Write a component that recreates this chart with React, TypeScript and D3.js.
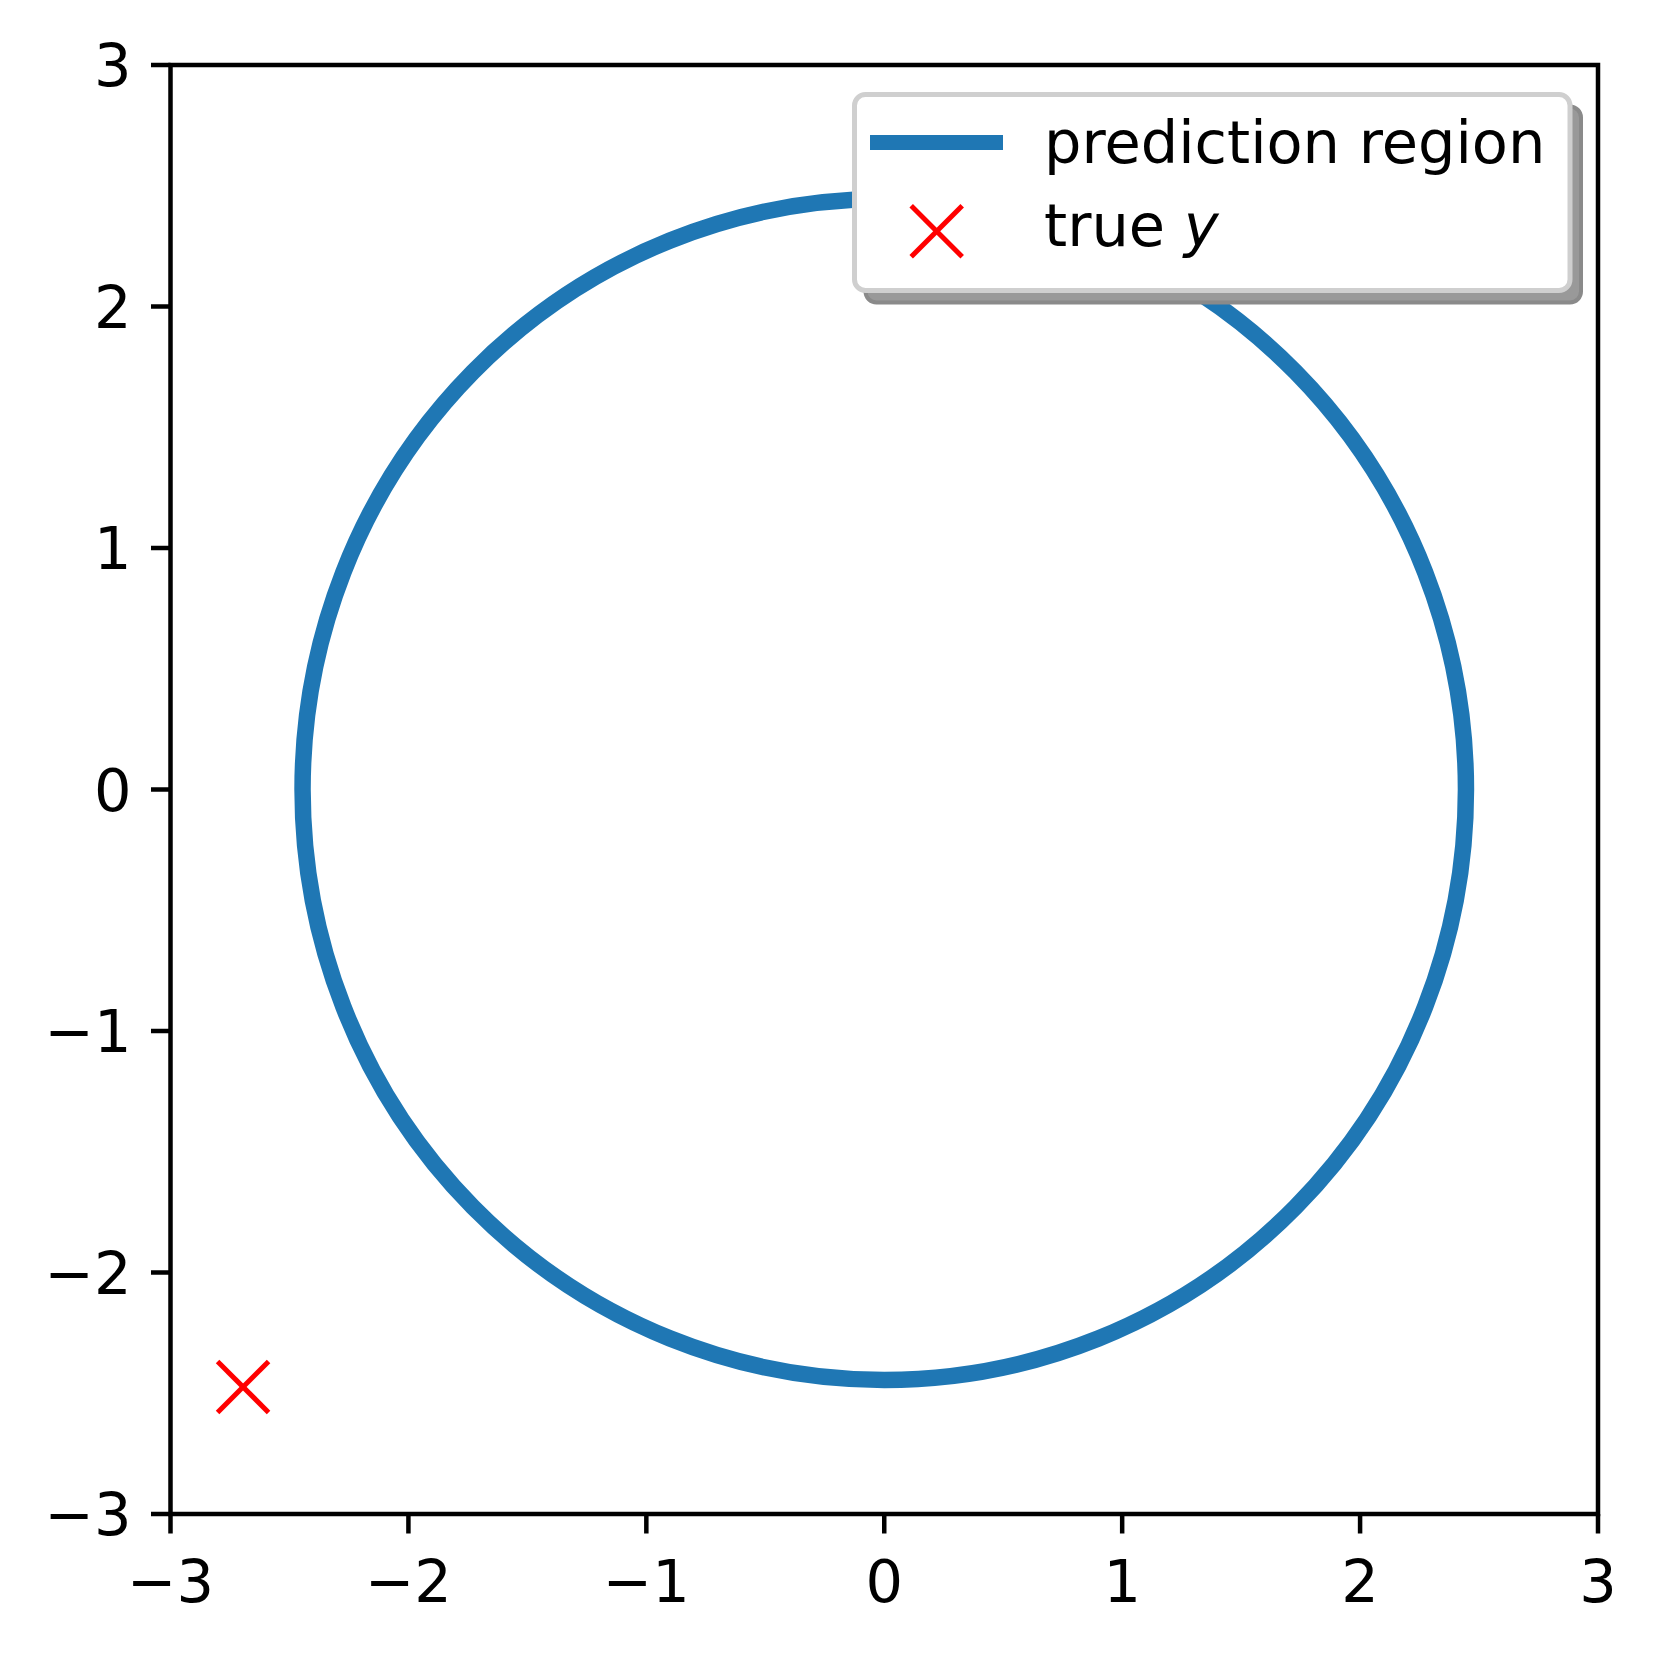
import React from "react";
import * as d3 from "d3";

const xTicks = [-3, -2, -1, 0, 1, 2, 3];
const yTicks = [-3, -2, -1, 0, 1, 2, 3];
const regionCenter = [0, 0];
const regionRadius = [2.445];
const trueY = [[-2.695, -2.474]];
const legendLabels = ["prediction region", "true y"];

const W = 1660, H = 1656;
const L = 170.5, R = 1598, T = 65, B = 1514;
const FONT = "DejaVu Sans, sans-serif";
const FS = 59;

export default function App() {
  const x = d3.scaleLinear().domain([-3, 3]).range([L, R]);
  const y = d3.scaleLinear().domain([-3, 3]).range([B, T]);
  const fmt = (v: number) => (v < 0 ? "\u2212" + Math.abs(v) : String(v));
  const rx = x(regionRadius[0]) - x(0);
  const ry = y(0) - y(regionRadius[0]);
  const ms = 25.5;
  const lx = 854.5, ly = 94.5, lw = 715.5, lh = 196;
  const mx = 936.7, my = 231.3;
  return (
    <svg width={W} height={H} style={{ position: "absolute", left: 0, top: 0, background: "#fff" }} fontFamily={FONT}>
      <rect x={0} y={0} width={W} height={H} fill="#fff" />
      <defs>
        <clipPath id="plotclip">
          <rect x={L} y={T} width={R - L} height={B - T} />
        </clipPath>
      </defs>
      <g clipPath="url(#plotclip)">
        <ellipse cx={x(regionCenter[0])} cy={y(regionCenter[1])} rx={rx} ry={ry} fill="none" stroke="#1f77b4" strokeWidth={16.5} />
        {trueY.map((p, i) => (
          <g key={i} stroke="#ff0000" strokeWidth={5}>
            <line x1={x(p[0]) - ms} y1={y(p[1]) - ms} x2={x(p[0]) + ms} y2={y(p[1]) + ms} />
            <line x1={x(p[0]) - ms} y1={y(p[1]) + ms} x2={x(p[0]) + ms} y2={y(p[1]) - ms} />
          </g>
        ))}
      </g>
      <rect x={L} y={T} width={R - L} height={B - T} fill="none" stroke="#000" strokeWidth={4.5} />
      {xTicks.map((t) => (
        <g key={"x" + t}>
          <line x1={x(t)} x2={x(t)} y1={B} y2={B + 19.5} stroke="#000" strokeWidth={4.5} />
          <text x={x(t)} y={B + 88} fontSize={FS} textAnchor="middle">{fmt(t)}</text>
        </g>
      ))}
      {yTicks.map((t) => (
        <g key={"y" + t}>
          <line x1={L - 19.5} x2={L} y1={y(t)} y2={y(t)} stroke="#000" strokeWidth={4.5} />
          <text x={L - 39} y={y(t)} dy="0.36em" fontSize={FS} textAnchor="end">{fmt(t)}</text>
        </g>
      ))}
      <g>
        <rect x={lx + 11} y={ly + 12} width={lw} height={lh} rx={11} fill="#999" stroke="#8a8a8a" strokeWidth={4} />
        <rect x={lx} y={ly} width={lw} height={lh} rx={11} fill="#fff" stroke="#cfcfcf" strokeWidth={5} />
        <line x1={870} x2={1003} y1={142.5} y2={142.5} stroke="#1f77b4" strokeWidth={15} />
        <text x={1044} y={163} fontSize={FS}>{legendLabels[0]}</text>
        <g stroke="#ff0000" strokeWidth={5}>
          <line x1={mx - ms} y1={my - ms} x2={mx + ms} y2={my + ms} />
          <line x1={mx - ms} y1={my + ms} x2={mx + ms} y2={my - ms} />
        </g>
        <text x={1044} y={246} fontSize={FS}>
          true <tspan fontStyle="italic">y</tspan>
        </text>
      </g>
    </svg>
  );
}
